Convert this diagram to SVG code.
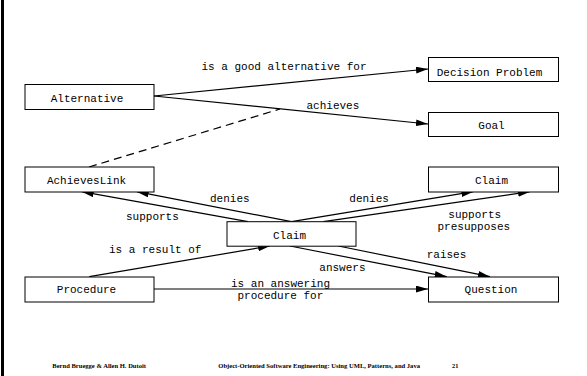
<svg xmlns="http://www.w3.org/2000/svg" width="587" height="376" viewBox="0 0 587 376">
<style>
.box{fill:#fff;stroke:#000;stroke-width:1}
.t{font-family:"Liberation Mono","Courier New",monospace;font-size:11px;fill:#000}
.c{stroke:#000;stroke-width:1.2;fill:none}
.a{marker-end:url(#arr)}
.d{stroke-dasharray:8,5}
.f{font-family:"Liberation Serif","Times New Roman",serif;font-weight:bold;font-size:6.3px;fill:#000}
</style>
<defs>
<marker id="arr" markerUnits="userSpaceOnUse" markerWidth="13" markerHeight="8" refX="12" refY="3.4" orient="auto">
<path d="M0,0 L12,3.4 L0,6.8 z" fill="#000"/>
</marker>
</defs>
<rect x="1" y="0" width="3" height="376" fill="#000"/>
<g id="connectors">
<path class="c a" d="M154,96 L428,69"/>
<path class="c a" d="M154,96 L428,124"/>
<path class="c d" d="M89,167 L280,109"/>
<path class="c a" d="M248,221.7 L81.7,191.7"/>
<path class="c a" d="M291.5,221.7 L136.7,191.7"/>
<path class="c a" d="M291.5,221.7 L473.3,191.7"/>
<path class="c a" d="M323.3,221.7 L530,191.7"/>
<path class="c a" d="M290,246 L446.7,276.7"/>
<path class="c a" d="M338.3,246 L490,276.7"/>
<path class="c a" d="M89.3,276.7 L270,246"/>
<path class="c a" d="M154,289 L428,289"/>
<text class="t" x="201.5" y="69.5">is a good alternative for</text>
<text class="t" x="306.5" y="109">achieves</text>
<text class="t" x="210" y="201.5">denies</text>
<text class="t" x="126" y="219.5">supports</text>
<text class="t" x="349.3" y="201.5">denies</text>
<text class="t" x="448.3" y="218">supports</text>
<text class="t" x="437.5" y="230">presupposes</text>
<text class="t" x="109" y="252.5">is a result of</text>
<text class="t" x="426.7" y="257.5">raises</text>
<text class="t" x="319.3" y="270.5">answers</text>
<text class="t" x="231" y="286.5">is an answering</text>
<text class="t" x="237.5" y="298.5">procedure for</text>
</g>
<g id="alternative">
<rect class="box" x="25" y="84.5" width="129" height="25"/>
<text class="t" x="87" y="101.5" text-anchor="middle">Alternative</text>
</g>
<g id="decision-problem">
<rect class="box" x="428.5" y="57.5" width="130" height="24"/>
<text class="t" x="489.5" y="76" text-anchor="middle">Decision Problem</text>
</g>
<g id="goal">
<rect class="box" x="428.5" y="112.5" width="130" height="24"/>
<text class="t" x="491.5" y="129" text-anchor="middle">Goal</text>
</g>
<g id="achieves-link">
<rect class="box" x="25" y="167" width="129" height="25"/>
<text class="t" x="86.5" y="184" text-anchor="middle">AchievesLink</text>
</g>
<g id="claim-right">
<rect class="box" x="428.5" y="167" width="130" height="25"/>
<text class="t" x="491.5" y="184" text-anchor="middle">Claim</text>
</g>
<g id="claim-center">
<rect class="box" x="227" y="221.7" width="129" height="24.5"/>
<text class="t" x="289.5" y="239" text-anchor="middle">Claim</text>
</g>
<g id="procedure">
<rect class="box" x="25" y="277" width="129" height="25"/>
<text class="t" x="86.5" y="293" text-anchor="middle">Procedure</text>
</g>
<g id="question">
<rect class="box" x="428.5" y="277" width="130" height="25"/>
<text class="t" x="491" y="293" text-anchor="middle">Question</text>
</g>
<g id="footer">
<text class="f" x="52.3" y="368" textLength="93.7" lengthAdjust="spacingAndGlyphs">Bernd Bruegge &amp; Allen H. Dutoit</text>
<text class="f" x="218.3" y="368" textLength="201.7" lengthAdjust="spacingAndGlyphs">Object-Oriented Software Engineering: Using UML, Patterns, and Java</text>
<text class="f" x="452" y="368">21</text>
</g>
</svg>
